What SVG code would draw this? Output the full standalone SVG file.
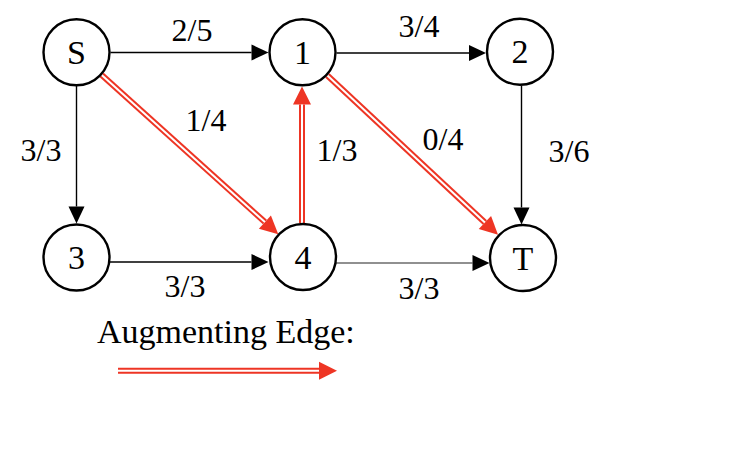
<svg xmlns="http://www.w3.org/2000/svg" width="734" height="452" viewBox="0 0 734 452">
<defs>
<marker id="ab" markerUnits="userSpaceOnUse" markerWidth="18" markerHeight="18" refX="0" refY="8" orient="auto" overflow="visible">
<path d="M0,0 L17,8 L0,16 z" fill="#000"/>
</marker>
<marker id="ar" markerUnits="userSpaceOnUse" markerWidth="19" markerHeight="19" refX="0" refY="9" orient="auto" overflow="visible">
<path d="M0,0 L18,9 L0,18 z" fill="#ee3524"/>
</marker>
</defs>
<style>
.node circle{fill:#fff;stroke:#000;stroke-width:2.4}
.node text{font-family:"Liberation Serif","Times New Roman",serif;font-size:34px;text-anchor:middle;fill:#000}
.lbl{font-family:"Liberation Serif","Times New Roman",serif;font-size:32px;text-anchor:middle;fill:#000}
.e{stroke:#000;stroke-width:1.4;fill:none;marker-end:url(#ab)}
.r{stroke:#ee3524;stroke-width:6;fill:none;marker-end:url(#ar)}
.w{stroke:#fff;stroke-width:2;fill:none}
</style>
<rect width="734" height="452" fill="#fff"/>
<g id="connectors">
<line class="e" x1="110.5" y1="52.5" x2="251.5" y2="52.5"/>
<line class="e" x1="76.5" y1="86" x2="76.5" y2="206.5"/>
<line class="e" x1="110" y1="262" x2="251.5" y2="262" style="stroke-width:1.7"/>
<line class="e" x1="336.5" y1="53" x2="469" y2="53"/>
<line class="e" x1="521.5" y1="85.5" x2="521.5" y2="207.5"/>
<line class="e" x1="336" y1="263" x2="472.5" y2="263" style="stroke-width:1.1;stroke:#222"/>
<line class="r" x1="101.7" y1="75.1" x2="264.9" y2="222.1"/>
<line class="w" x1="101.7" y1="75.1" x2="264.9" y2="222.1"/>
<line class="r" x1="302" y1="223" x2="302" y2="104.5"/>
<line class="w" x1="302" y1="223" x2="302" y2="104.5"/>
<line class="r" x1="327.4" y1="75.5" x2="484.9" y2="222.5"/>
<line class="w" x1="327.4" y1="75.5" x2="484.9" y2="222.5"/>
</g>
<g id="labels">
<text class="lbl" x="192" y="41">2/5</text>
<text class="lbl" x="419" y="36.5">3/4</text>
<text class="lbl" x="41" y="160.7">3/3</text>
<text class="lbl" x="206" y="130.7">1/4</text>
<text class="lbl" x="337" y="161">1/3</text>
<text class="lbl" x="443" y="150">0/4</text>
<text class="lbl" x="569" y="161.7">3/6</text>
<text class="lbl" x="185" y="297">3/3</text>
<text class="lbl" x="419" y="299">3/3</text>
</g>
<g id="node-S" class="node"><circle cx="76.5" cy="52.3" r="33"/><text x="76.5" y="63.5">S</text></g>
<g id="node-1" class="node"><circle cx="302.5" cy="52.3" r="33"/><text x="302.5" y="63.5">1</text></g>
<g id="node-2" class="node"><circle cx="520" cy="51.7" r="33"/><text x="520" y="63">2</text></g>
<g id="node-3" class="node"><circle cx="76.5" cy="257.5" r="33"/><text x="76.5" y="268.5">3</text></g>
<g id="node-4" class="node"><circle cx="303" cy="257" r="33"/><text x="303" y="268.5">4</text></g>
<g id="node-T" class="node"><circle cx="523" cy="258" r="33"/><text x="523" y="270">T</text></g>
<g id="legend">
<text x="97" y="342.5" style="font-family:'Liberation Serif','Times New Roman',serif;font-size:34px;fill:#000">Augmenting Edge:</text>
<line class="r" x1="118" y1="370.7" x2="319" y2="370.7"/>
<line class="w" x1="118" y1="370.7" x2="319" y2="370.7"/>
</g>
</svg>
